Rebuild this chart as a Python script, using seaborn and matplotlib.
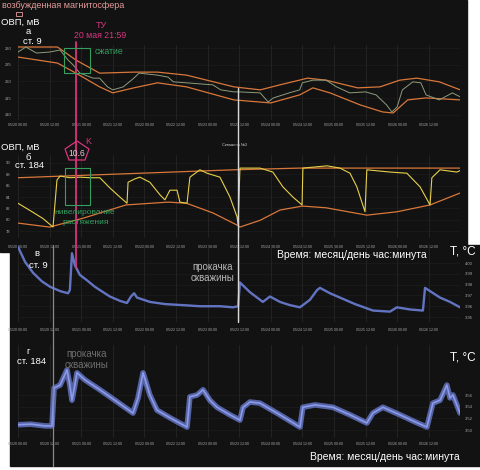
# -*- coding: utf-8 -*-
"""ОВП и температура в скважинах ст. 9 и ст. 184, 20-26 мая"""
import pandas as pd
import matplotlib
matplotlib.use("Agg")
import matplotlib.pyplot as plt
import matplotlib.dates as mdates
from matplotlib.patches import Rectangle, Polygon
from matplotlib.lines import Line2D
import seaborn as sns

sns.set_style("dark")
plt.rcParams["font.family"] = ["Liberation Sans", "DejaVu Sans"]

T0 = pd.Timestamp("2021-05-20 00:00")

# а: ОВП ст. 9, мВ (время в часах от 05/20 00:00)
a_hours = [0, 3, 7, 12, 16, 19, 21, 23.5, 28.5, 31, 34, 36, 40, 44, 46, 53, 57, 59, 64,
           74, 77, 82, 84, 92, 95, 97, 103, 107, 108, 112, 117, 121, 126, 132, 136, 140,
           142, 144, 146, 150, 153, 155, 160, 165, 168]
a_orp = [228.8, 230.3, 228.5, 228.8, 229.4, 226.4, 224.9, 222.5, 221.0, 221.0, 218.4, 217.5,
         218.4, 221.0, 222.5, 221.9, 221.3, 219.9, 219.6, 219.0, 217.5, 216.9, 216.9, 216.6,
         213.9, 215.1, 216.6, 217.5, 219.6, 220.4, 220.4, 218.4, 216.6, 216.9, 216.0, 213.0,
         210.9, 212.4, 217.5, 219.9, 219.6, 216.0, 214.5, 216.6, 215.4]
a_up_hours = [0, 15, 22, 31, 44, 53, 64, 82, 92, 99.5, 110, 117, 129, 137.5, 145, 151.5, 160, 168]
a_up = [230.3, 230.3, 226.4, 222.5, 222.8, 222.8, 221.9, 218.4, 217.5, 219.0, 221.0, 220.4,
        218.1, 218.4, 220.4, 221.0, 219.9, 217.5]
a_lo_hours = [0, 15, 22, 31, 36, 44, 53, 64, 82, 96, 107, 112, 118.5, 130, 138.5, 142.5,
              148, 155, 168]
a_lo = [227.3, 225.5, 222.5, 218.4, 216.6, 218.1, 219.6, 218.4, 214.5, 213.6, 216.0, 218.1,
        216.6, 213.0, 210.9, 210.6, 214.5, 215.1, 214.5]

# б: ОВП ст. 184, мВ
b_hours = [0, 5.7, 9.5, 13.3, 14.8, 16, 19.7, 23.5, 27.3, 31.1, 34.9, 38.7, 41.4, 41.8, 44.4,
           46.3, 50.1, 53.9, 55.8, 57.7, 60.4, 61.5, 64.2, 65.3, 69.1, 71.8, 76.7, 80.5, 83.2,
           83.6, 84.3, 91.9, 96.8, 100.6, 104.4, 107.9, 108.2, 117.4, 122.3, 126.1, 128.7,
           131.8, 132.5, 141.3, 147.7, 152.7, 156.5, 157.2, 160.3, 166.7, 168.6]
b_orp = [82.9, 81.3, 80.2, 78.7, 87.0, 87.7, 87.4, 87.5, 87.4, 87.4, 85.6, 84.0, 82.9, 86.6,
         87.2, 87.5, 86.6, 84.4, 83.5, 85.2, 85.2, 83.1, 82.9, 87.5, 88.8, 88.2, 87.5, 84.0,
         80.5, 79.1, 89.1, 89.1, 88.4, 85.8, 84.0, 82.6, 89.1, 89.5, 89.1, 88.2, 85.8, 81.4,
         88.8, 88.4, 88.2, 85.8, 82.6, 87.4, 88.8, 88.4, 88.8]
b_up_hours = [0, 41, 82, 107, 168.6]
b_up = [87.4, 88.1, 88.8, 89.1, 89.1]
b_lo_hours = [0, 12, 25, 41, 57, 64, 74, 83, 84.3, 92, 99.5, 108, 117, 132.5, 144, 156.5, 169]
b_lo = [79.4, 78.7, 80.3, 82.6, 83.1, 82.9, 81.2, 79.1, 78.7, 79.9, 81.7, 82.4, 82.1, 80.8,
        81.4, 82.6, 84.9]

# в: температура ст. 9, °C
c_hours = [0, 2.7, 5.7, 9.1, 12.2, 16, 19, 19.7, 20.5, 21.6, 23.5, 26.2, 29.2, 34.9, 38.7,
           41.4, 42.9, 44.1, 45.2, 50.1, 55.8, 62.7, 69.1, 76.7, 81.7, 83.6, 84.3, 88.1, 93,
           95.7, 99.5, 103.3, 107.1, 110.9, 113.6, 114.7, 118.5, 122.3, 128, 134.8, 141.3,
           143.9, 148.9, 153.8, 154.6, 160.3, 164.1, 167.9]
c_temp = [4.015, 4.001, 3.991, 3.983, 3.978, 3.974, 3.972, 3.975, 4.009, 3.998, 3.989, 3.984,
          3.978, 3.969, 3.965, 3.963, 3.969, 3.972, 3.968, 3.964, 3.962, 3.961, 3.960, 3.960,
          3.959, 3.960, 3.982, 3.973, 3.964, 3.969, 3.964, 3.961, 3.959, 3.966, 3.975, 3.977,
          3.972, 3.968, 3.962, 3.956, 3.955, 3.959, 3.957, 3.956, 3.977, 3.968, 3.964, 3.959]

# г: температура ст. 184, °C
d_hours = [0, 4.9, 10.3, 12.9, 13.7, 16, 18.6, 19.7, 20.5, 21.6, 22.4, 25.4, 31.1, 36.8,
           43.7, 45.6, 47.5, 50.1, 52.8, 57.7, 64.2, 65.3, 68, 70.3, 72.9, 75.6, 80.5, 84.3,
           85.5, 88.1, 91.9, 99.5, 107.1, 108.2, 112.8, 119.6, 126.1, 132.5, 134.8, 138.6,
           145.1, 150.8, 155.3, 157.6, 160.3, 162.9, 164.1, 165.2, 167.9]
d_temp = [3.509, 3.510, 3.507, 3.507, 3.572, 3.577, 3.603, 3.577, 3.551, 3.577, 3.598, 3.586,
          3.569, 3.551, 3.529, 3.555, 3.598, 3.560, 3.534, 3.521, 3.505, 3.557, 3.560, 3.569,
          3.551, 3.539, 3.526, 3.517, 3.539, 3.548, 3.546, 3.526, 3.505, 3.539, 3.543, 3.539,
          3.526, 3.512, 3.529, 3.539, 3.526, 3.514, 3.505, 3.546, 3.551, 3.577, 3.555, 3.560,
          3.529]

EVENT_TU = T0 + pd.Timedelta(hours=21, minutes=59)    # 20 мая 21:59
PUMP_184 = T0 + pd.Timedelta(hours=13, minutes=20)
PUMP_9 = T0 + pd.Timedelta(hours=83, minutes=30)

BG = "#121212"
ORANGE = "#d9773a"
PINK = "#d8347e"
GREEN = "#33a060"
BLUE = "#6c7fd6"

W, H = 480, 470


def fx(x):
    return x / W


def fy(y):
    return 1 - y / H


def box(x0, y0, x1, y1):
    return [x0 / W, 1 - y1 / H, (x1 - x0) / W, (y1 - y0) / H]


def frame(hours, values):
    return pd.DataFrame({"t": T0 + pd.to_timedelta(hours, unit="h"), "v": values})


def style_axis(ax, ylim, yticks, yfmt, right, xpad, ypad):
    ax.set_facecolor("none")
    ax.set_xlim(T0, T0 + pd.Timedelta(hours=168))
    ax.set_ylim(*ylim)
    ax.set_xticks(pd.date_range(T0, periods=14, freq="12h"))
    ax.xaxis.set_major_formatter(mdates.DateFormatter("%m/%d %H:%M"))
    ax.set_yticks(yticks)
    ax.set_yticklabels([yfmt.format(v) for v in yticks])
    ax.grid(True, axis="x", color="#2a2a2a", lw=0.5)
    ax.grid(True, axis="y", color="#1f1f1f", lw=0.4)
    for s in ax.spines.values():
        s.set_visible(False)
    ax.tick_params(axis="x", length=0, labelsize=2.6, labelcolor="#a8a8a8", pad=xpad)
    ax.tick_params(axis="y", length=0, labelsize=3, labelcolor="#a8a8a8", pad=ypad)
    if right:
        ax.yaxis.tick_right()
    ax.set_xlabel("")
    ax.set_ylabel("")


fig = plt.figure(figsize=(4.8, 4.7), dpi=100, facecolor="white")
fig.patches.append(Rectangle((0, fy(252)), fx(467), 252 / H, transform=fig.transFigure,
                             color=BG, zorder=-2))
fig.patches.append(Rectangle((fx(10), fy(466)), 1 - fx(10), (466 - 245) / H,
                             transform=fig.transFigure, color=BG, zorder=-2))

ax_a = fig.add_axes(box(18, 45, 460.3, 120))
ax_b = fig.add_axes(box(18, 155, 460.3, 238))
ax_c = fig.add_axes(box(18, 245, 460.3, 322))
ax_d = fig.add_axes(box(18, 345, 460.3, 438))

sns.lineplot(data=frame(a_up_hours, a_up), x="t", y="v", ax=ax_a, color=ORANGE, lw=0.9)
sns.lineplot(data=frame(a_lo_hours, a_lo), x="t", y="v", ax=ax_a, color=ORANGE, lw=0.9)
sns.lineplot(data=frame(a_hours, a_orp), x="t", y="v", ax=ax_a, color="#8c9c7c", lw=0.7)
style_axis(ax_a, (208.5, 230.9), [210, 215, 220, 225, 230], "{:.0f}", False, 2.5, 4.3)

sns.lineplot(data=frame(b_up_hours, b_up), x="t", y="v", ax=ax_b, color=ORANGE, lw=0.9)
sns.lineplot(data=frame(b_lo_hours, b_lo), x="t", y="v", ax=ax_b, color=ORANGE, lw=0.9)
sns.lineplot(data=frame(b_hours, b_orp), x="t", y="v", ax=ax_b, color="#e6d04a", lw=0.8)
style_axis(ax_b, (76.77, 91.41), [78, 80, 82, 84, 86, 88, 90], "{:.0f}", False, 5.4, 5.8)

sns.lineplot(data=frame(c_hours, c_temp), x="t", y="v", ax=ax_c, color=BLUE, lw=1.7,
             alpha=0.9)
style_axis(ax_c, (3.9454, 4.0167), [3.95, 3.96, 3.97, 3.98, 3.99, 4.00], "{:.2f}", True, 4.0, 3.6)

sns.lineplot(data=frame(d_hours, d_temp), x="t", y="v", ax=ax_d, color=BLUE, lw=4,
             alpha=0.75)
sns.lineplot(data=frame(d_hours, d_temp), x="t", y="v", ax=ax_d, color="#8b9be8", lw=1.2)
style_axis(ax_d, (3.4863, 3.6457), [3.50, 3.52, 3.54, 3.56], "{:.2f}", True, 3.2, 3.6)


def fig_x(ax, t):
    disp = ax.transData.transform((mdates.date2num(t), 0))
    return fig.transFigure.inverted().transform(disp)[0]


for t, y0, y1, col, lw in [(EVENT_TU, 42, 268, PINK, 1.3),
                           (PUMP_9, 88, 322, "#d8d8d8", 1.0),
                           (PUMP_184, 245, 466, "#8a8a8a", 0.9)]:
    xf = fig_x(ax_a, t)
    fig.lines.append(Line2D([xf, xf], [fy(y0), fy(y1)], transform=fig.transFigure,
                            color=col, lw=lw, zorder=5))

# рамки и пятиугольник
for x0, y0, x1, y1 in [(64, 48, 90, 73), (65, 168, 90, 205)]:
    fig.patches.append(Rectangle((fx(x0), fy(y1)), (x1 - x0) / W, (y1 - y0) / H,
                                 transform=fig.transFigure, fill=False, ec=GREEN, lw=0.8,
                                 zorder=6))
fig.patches.append(Rectangle((fx(16), fy(16)), 6 / W, 4 / H, transform=fig.transFigure,
                             fill=False, ec="#e49a9a", lw=0.6, zorder=6))
penta = [(77, 141), (89, 149), (85, 160), (69, 160), (65, 149)]
fig.patches.append(Polygon([(fx(x), fy(y)) for x, y in penta], closed=True,
                           transform=fig.transFigure, fill=False, ec=PINK, lw=0.9, zorder=6))


def label(x, y, s, size, color="white", ha="center"):
    fig.text(fx(x), fy(y), s, fontsize=size, color=color, ha=ha, va="center", zorder=7)


label(2, 5, "возбужденная магнитосфера", 6.5, "#e49a9a", "left")
label(20, 22, "ОВП, мВ", 6.8)
label(28, 32, "а", 6.8)
label(32, 42, "ст. 9", 6.8)
label(101, 25, "ТУ", 6.5, PINK)
label(100, 35, "20 мая 21:59", 6.3, PINK)
label(95, 52, "сжатие", 6.3, GREEN, "left")

label(20, 147, "ОВП, мВ", 6.8)
label(28, 157, "б", 6.8)
label(30, 166, "ст. 184", 6.8)
label(88, 142, "K", 6.5, PINK)
label(77, 153, "10.6", 6.2, "#f0c4da")
label(85, 212, "нивелирование", 6.0, GREEN)
label(86, 222, "растяжения", 6.0, GREEN)
label(235, 145, "Скважина №2", 2.8, "#d0d0d0")

label(37, 253, "в", 6.8)
label(38, 265, "ст. 9", 6.8)
label(213, 267, "прокачка", 7, "#b8b8b8")
label(213, 278, "скважины", 7, "#b8b8b8")
label(352, 255, "Время: месяц/день час:минута", 7.5)
label(463, 252, "T, °C", 8.5)

label(28, 351, "г", 6.8)
label(32, 362, "ст. 184", 6.8)
label(87, 354, "прокачка", 7, "#6e6e6e")
label(87, 365, "скважины", 7, "#6e6e6e")
label(385, 457, "Время: месяц/день час:минута", 7.5)
label(463, 358, "T, °C", 8.5)

fig.savefig("out.png", dpi=100, facecolor=fig.get_facecolor())
plt.close(fig)
